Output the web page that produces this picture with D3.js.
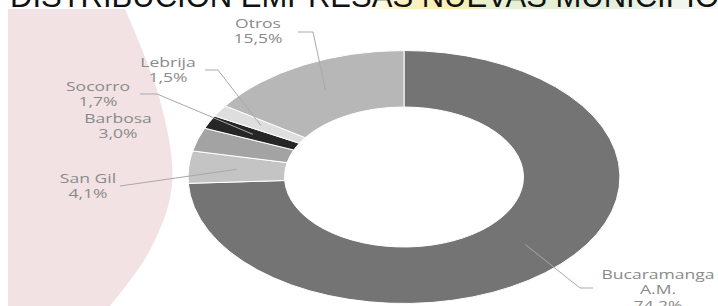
<!DOCTYPE html>
<html><head><meta charset="utf-8">
<script src="https://cdn.jsdelivr.net/npm/d3@7"></script>
<style>html,body{margin:0;padding:0;background:#fff;overflow:hidden}svg{display:block}</style>
</head><body>
<svg id="c" width="718" height="306"></svg>
<script>
const title = "DISTRIBUCIÓN EMPRESAS NUEVAS MUNICIPIOS";
const categories = ["Bucaramanga A.M.", "San Gil", "Barbosa", "Socorro", "Lebrija", "Otros"];
const values = [74.2, 4.1, 3.0, 1.7, 1.5, 15.5];
const valueLabels = ["74,2%", "4,1%", "3,0%", "1,7%", "1,5%", "15,5%"];
const colors = ["#747474", "#c4c4c4", "#a3a3a3", "#262626", "#dedede", "#b7b7b7"];

// label layout (screen positions of label blocks)
const labelLines = [["Bucaramanga", "A.M."], ["San Gil"], ["Barbosa"], ["Socorro"], ["Lebrija"], ["Otros"]];
const labelPos = [[658, 279], [88, 183], [118, 123], [98, 91], [168, 67], [258, 28]];
const leaderElbow = [[[580, 288], [593, 288]], [[120, 186]], null, [[157, 94], [140, 94]], [[218, 70], [205, 70]], [[313, 32], [298, 32]]];

const svg = d3.select("#c");
const W = 718, H = 306;

// background decorations
const defs = svg.append("defs");
const g1 = defs.append("linearGradient").attr("id", "tg").attr("x1", 0).attr("x2", 1);
g1.append("stop").attr("offset", "0").attr("stop-color", "#ffffff");
g1.append("stop").attr("offset", "0.50").attr("stop-color", "#ffffff");
g1.append("stop").attr("offset", "0.56").attr("stop-color", "#fbf2c4");
g1.append("stop").attr("offset", "0.64").attr("stop-color", "#f7efb0");
g1.append("stop").attr("offset", "0.68").attr("stop-color", "#e6f0d2");
g1.append("stop").attr("offset", "0.85").attr("stop-color", "#e3efdc");
g1.append("stop").attr("offset", "0.93").attr("stop-color", "#eef5ec");
g1.append("stop").attr("offset", "1").attr("stop-color", "#f6f9f4");
svg.append("rect").attr("x", 0).attr("y", 0).attr("width", W).attr("height", 9).attr("fill", "url(#tg)");

const pinkPts = [[125, 9], [160, 100], [172, 185], [150, 250], [110, 306]];
const pinkLine = d3.line().curve(d3.curveCatmullRom);
svg.append("path")
  .attr("d", "M8,9L" + pinkLine(pinkPts).slice(1) + "L8,306Z")
  .attr("fill", "#f2e2e4");

// title
svg.append("text")
  .attr("x", 10).attr("y", 7)
  .attr("font-family", "Liberation Sans, Arial, sans-serif")
  .attr("font-size", 31)
  .attr("fill", "#111")
  .text(title);

// donut
const cx = 404, cy = 177, sx = 1.707;
const rOuter = 126.5, rInner = 70;
const pie = d3.pie().sort(null).value(d => d)(values);
const arc = d3.arc().innerRadius(rInner).outerRadius(rOuter);
const gD = svg.append("g").attr("transform", `translate(${cx},${cy}) scale(${sx},1)`);
gD.selectAll("path").data(pie).join("path")
  .attr("d", arc)
  .attr("fill", (d, i) => colors[i])
  .attr("stroke", "#fff")
  .attr("stroke-width", 1)
  .attr("vector-effect", "non-scaling-stroke");

// leader lines, ending at arc centroids
const toScreen = p => [cx + p[0] * sx, cy + p[1]];
pie.forEach((d, i) => {
  if (!leaderElbow[i]) return;
  const c = toScreen(arc.centroid(d));
  const pts = [c].concat(leaderElbow[i]);
  svg.append("path")
    .attr("d", d3.line()(pts))
    .attr("fill", "none")
    .attr("stroke", "#a9a9a9")
    .attr("stroke-width", 1);
});

// labels
const tsx = 1.3;
const gL = svg.append("g").attr("transform", `scale(${tsx},1)`);
categories.forEach((c, i) => {
  const lines = labelLines[i].concat([valueLabels[i]]);
  const t = gL.append("text")
    .attr("text-anchor", "middle")
    .attr("font-family", "Open Sans, sans-serif")
    .attr("font-size", 13.5)
    .attr("fill", "#8a8a8a");
  lines.forEach((ln, k) => {
    t.append("tspan").attr("x", labelPos[i][0] / tsx).attr("y", labelPos[i][1] + k * 15.5).text(ln);
  });
});
</script>
</body></html>
